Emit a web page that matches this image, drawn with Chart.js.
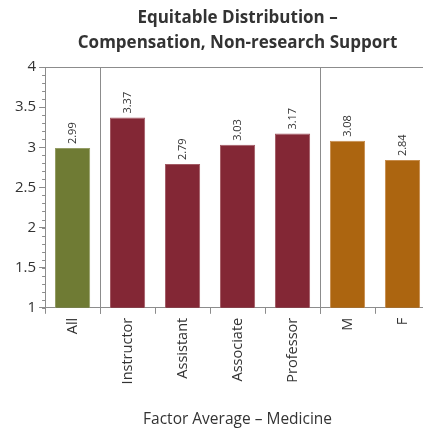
<!DOCTYPE html>
<html>
<head>
<meta charset="utf-8">
<script src="https://cdn.jsdelivr.net/npm/chart.js@4"></script>
<style>
  html, body { margin: 0; padding: 0; background: #fff; overflow: hidden; }
  #wrap { width: 423px; height: 431px; overflow: hidden; }
</style>
</head>
<body>
<div id="wrap"><canvas id="chart" width="476" height="431"></canvas></div>
<script>
// --- DATA ---
const categories = ['All', 'Instructor', 'Assistant', 'Associate', 'Professor', 'M', 'F'];
const factorAverages = [2.99, 3.37, 2.79, 3.03, 3.17, 3.08, 2.84];
const groupOf = ['all', 'rank', 'rank', 'rank', 'rank', 'sex', 'sex'];
const separatorsAfter = [0, 4];   // vertical lines between groups
const titleLines = ['Equitable Distribution \u2013', 'Compensation, Non-research Support'];
const xAxisTitle = 'Factor Average \u2013 Medicine';

const groupColors = { all: '#6f7b34', rank: '#832735', sex: '#ac6510' };
const groupEdges = { all: '#949d66', rank: '#a35a64', sex: '#c68c4c' };
const FONT = '"Open Sans", sans-serif';

// title centred over the plot, minor ticks, group separators, top border, value labels
const decorations = {
    id: 'decorations',
    afterDatasetsDraw(chart) {
        const { ctx, chartArea, scales } = chart;
        const x = scales.x, y = scales.y;
        ctx.save();

        // title
        ctx.fillStyle = '#333';
        ctx.font = 'bold 17px ' + FONT;
        ctx.textAlign = 'center';
        ctx.textBaseline = 'middle';
        const cx = (chartArea.left + chartArea.right) / 2;
        titleLines.forEach((line, i) => ctx.fillText(line, cx, 18 + i * 25));

        ctx.strokeStyle = '#8c8c8c';
        ctx.lineWidth = 1;

        // top border
        ctx.beginPath();
        ctx.moveTo(chartArea.left, Math.round(chartArea.top) + 0.5);
        ctx.lineTo(chartArea.right, Math.round(chartArea.top) + 0.5);
        ctx.stroke();

        // minor ticks on y axis
        for (let v = 1; v <= 4.001; v += 0.1) {
            const py = Math.round(y.getPixelForValue(v)) + 0.5;
            ctx.beginPath();
            ctx.moveTo(chartArea.left - 3, py);
            ctx.lineTo(chartArea.left, py);
            ctx.stroke();
        }

        // group separators
        separatorsAfter.forEach(i => {
            const px = Math.round((x.getPixelForValue(i) + x.getPixelForValue(i + 1)) / 2) + 0.5;
            ctx.beginPath();
            ctx.moveTo(px, chartArea.top);
            ctx.lineTo(px, chartArea.bottom + 6);
            ctx.stroke();
        });

        // value labels
        ctx.fillStyle = '#333';
        ctx.font = '11px ' + FONT;
        ctx.textAlign = 'left';
        ctx.textBaseline = 'middle';
        chart.getDatasetMeta(0).data.forEach((bar, i) => {
            ctx.save();
            ctx.translate(bar.x, bar.y - 4);
            ctx.rotate(-Math.PI / 2);
            ctx.fillText(factorAverages[i].toFixed(2), 0, 0);
            ctx.restore();
        });
        ctx.restore();
    }
};

new Chart(document.getElementById('chart'), {
    type: 'bar',
    data: {
        labels: categories,
        datasets: [{
            data: factorAverages,
            backgroundColor: groupOf.map(g => groupColors[g]),
            borderColor: groupOf.map(g => groupEdges[g]),
            borderWidth: 1,
            categoryPercentage: 1,
            barPercentage: 0.64
        }]
    },
    options: {
        responsive: false,
        devicePixelRatio: 1,
        animation: false,
        layout: { padding: { left: 12, right: 46, top: 67, bottom: 2 } },
        plugins: {
            legend: { display: false },
            tooltip: { enabled: false },
            title: { display: false }
        },
        scales: {
            x: {
                offset: true,
                grid: { drawOnChartArea: false, drawTicks: true, tickLength: 6, color: '#8c8c8c' },
                border: { display: true, color: '#8c8c8c' },
                ticks: {
                    color: '#333',
                    font: { family: FONT, size: 14.5 },
                    minRotation: 90,
                    maxRotation: 90,
                    padding: 4
                },
                title: {
                    display: true,
                    text: xAxisTitle,
                    color: '#333',
                    font: { family: FONT, size: 15.5 },
                    padding: { top: 22, bottom: 0 }
                }
            },
            y: {
                min: 1,
                max: 4,
                grid: { drawOnChartArea: false, drawTicks: true, tickLength: 6, color: '#8c8c8c' },
                border: { display: true, color: '#8c8c8c' },
                ticks: {
                    stepSize: 0.5,
                    color: '#333',
                    font: { family: FONT, size: 15 },
                    padding: 3,
                    callback: v => String(v)
                }
            }
        }
    },
    plugins: [decorations]
});
</script>
</body>
</html>
